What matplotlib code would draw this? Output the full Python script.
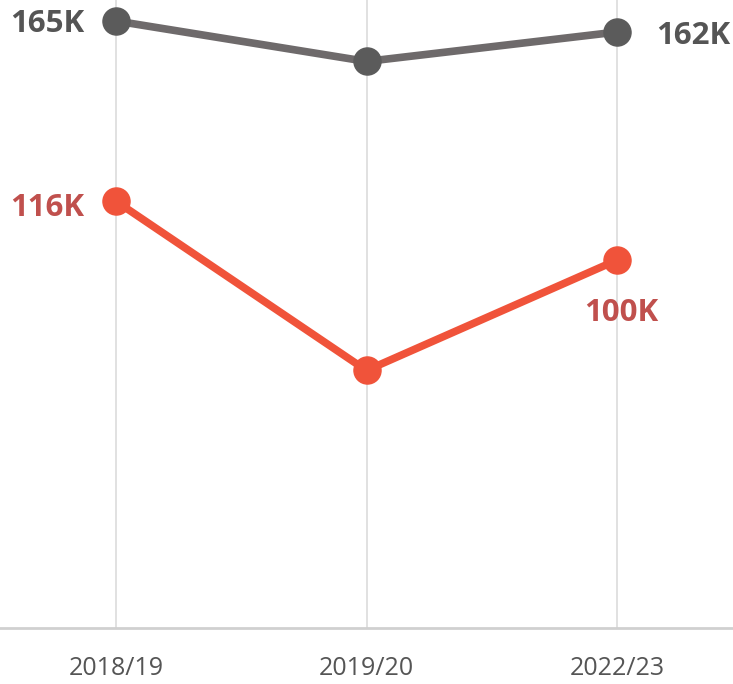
import matplotlib
matplotlib.use("Agg")
import matplotlib.pyplot as plt

categories = ["2018/19", "2019/20", "2022/23"]
series_gray = [165, 154, 162]
series_red = [116, 70, 100]

plt.rcParams['font.family'] = ['Open Sans', 'DejaVu Sans']

fig = plt.figure(figsize=(7.33, 6.84), dpi=100)
ax = fig.add_axes([0, 1 - 628 / 684, 1, 628 / 684])
x = list(range(len(categories)))

ax.plot(x, series_gray, color="#6e6a6b", lw=5.5, solid_capstyle="round", zorder=3)
ax.plot(x, series_gray, "o", color="#5b5b5b", ms=19.5, zorder=4)
ax.plot(x, series_red, color="#f0533a", lw=5.5, solid_capstyle="round", zorder=3)
ax.plot(x, series_red, "o", color="#f0533a", ms=19.5, zorder=4)

ax.set_xlim(-0.463, 2.463)
ax.set_ylim(0, 170.7)

for xi in x:
    ax.axvline(xi, color="#dcdcdc", lw=1.2, zorder=1)
ax.axhline(0, color="#d0d0d0", lw=2, zorder=2, clip_on=False)

for s in ax.spines.values():
    s.set_visible(False)
ax.set_yticks([])
ax.set_xticks(x)
ax.set_xticklabels(categories, fontsize=18, color="#555555")
ax.tick_params(axis="x", length=0, pad=20)

gray_lbl = "#555555"
red_lbl = "#c0504d"
fs = 22.5
ax.annotate(f"{series_gray[0]}K", (0, series_gray[0]), xytext=(-23, -2), textcoords="offset points",
            ha="right", va="center", fontsize=fs, fontweight="bold", color=gray_lbl)
ax.annotate(f"{series_gray[2]}K", (2, series_gray[2]), xytext=(28, -3), textcoords="offset points",
            ha="left", va="center", fontsize=fs, fontweight="bold", color=gray_lbl)
ax.annotate(f"{series_red[0]}K", (0, series_red[0]), xytext=(-23, -5), textcoords="offset points",
            ha="right", va="center", fontsize=fs, fontweight="bold", color=red_lbl)
ax.annotate(f"{series_red[2]}K", (2, series_red[2]), xytext=(3, -38), textcoords="offset points",
            ha="center", va="center", fontsize=fs, fontweight="bold", color=red_lbl)

fig.savefig("out.png", dpi=100)
